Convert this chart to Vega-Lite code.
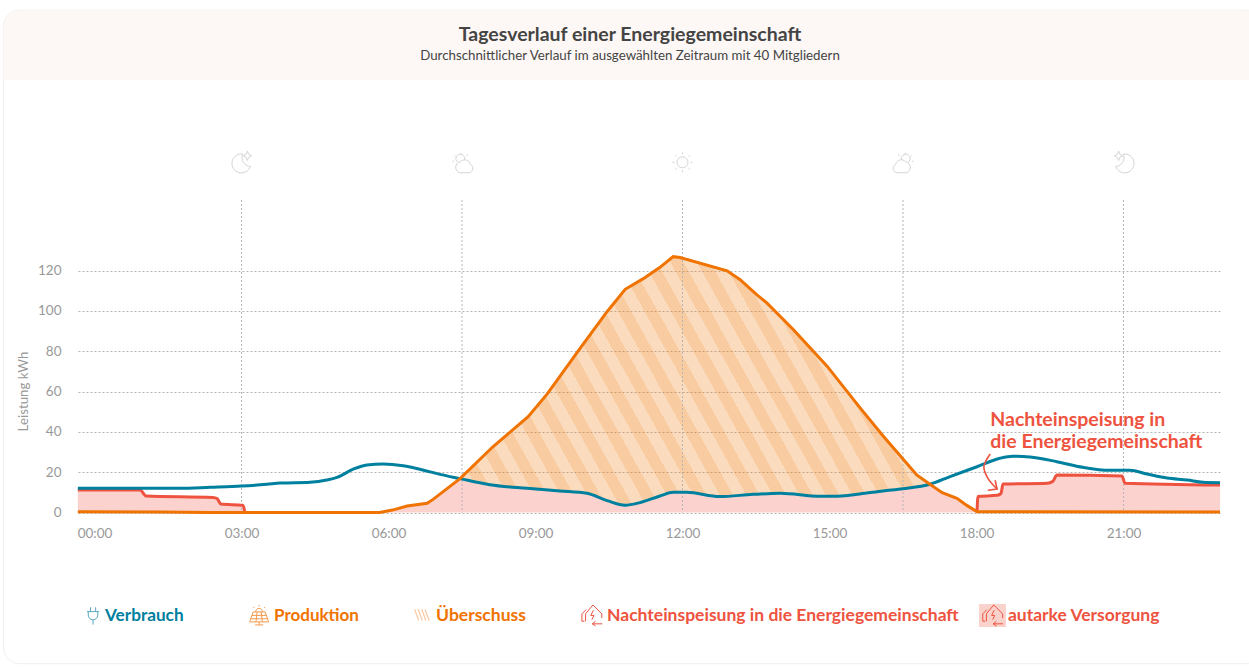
{
"$schema":"https://vega.github.io/schema/vega-lite/v6.json",
"width":1142,"height":312.5,"autosize":{"type":"none"},
"padding":{"left":78,"top":200,"right":29,"bottom":155.5},
"background":"#ffffff",
"title":{"text":"Tagesverlauf einer Energiegemeinschaft","subtitle":"Durchschnittlicher Verlauf im ausgewählten Zeitraum mit 40 Mitgliedern","anchor":"middle","frame":"group","dx":-19,"offset":-53.5,"font":"Lato","fontSize":19.5,"fontWeight":700,"color":"#444444","subtitleFont":"Lato","subtitleFontSize":13.3,"subtitleFontWeight":400,"subtitleColor":"#444444","subtitlePadding":3},
"config":{"view":{"stroke":null}},
"resolve":{"axis":{"x":"independent","y":"independent"}},
"data":{"values":[{}]},
"datasets":{
"verbrauch":[{"h":-0.34,"v":12},{"h":1.74,"v":12},{"h":2.36,"v":12.5},{"h":3.0,"v":13.1},{"h":3.52,"v":14},{"h":3.79,"v":14.6},{"h":4.4,"v":15},{"h":4.74,"v":16.1},{"h":4.95,"v":17.4},{"h":5.28,"v":21.5},{"h":5.56,"v":23.6},{"h":5.89,"v":24.05},{"h":6.3,"v":23.2},{"h":6.7,"v":21.1},{"h":7.05,"v":18.9},{"h":7.46,"v":16.8},{"h":8.07,"v":13.8},{"h":8.83,"v":12},{"h":9.5,"v":10.7},{"h":10.05,"v":9.5},{"h":10.46,"v":5.9},{"h":10.83,"v":3.6},{"h":11.13,"v":4.9},{"h":11.54,"v":8.2},{"h":11.81,"v":10},{"h":12.09,"v":10},{"h":12.76,"v":7.9},{"h":13.44,"v":9},{"h":13.99,"v":9.5},{"h":14.81,"v":8},{"h":15.07,"v":8},{"h":15.62,"v":9.2},{"h":16.09,"v":10.7},{"h":16.5,"v":11.8},{"h":17.05,"v":14},{"h":17.46,"v":17.8},{"h":18.01,"v":22.7},{"h":18.48,"v":26.9},{"h":18.74,"v":27.9},{"h":19.09,"v":27.5},{"h":19.64,"v":25.2},{"h":20.17,"v":22.4},{"h":20.72,"v":20.9},{"h":21.13,"v":20.9},{"h":21.48,"v":19.1},{"h":21.89,"v":17.1},{"h":22.3,"v":16.1},{"h":22.62,"v":15},{"h":22.97,"v":14.8}],
"produktion":[{"h":-0.34,"v":0.4},{"h":1.33,"v":0.2},{"h":2.36,"v":0},{"h":5.82,"v":0},{"h":6.08,"v":1.2},{"h":6.38,"v":3.2},{"h":6.79,"v":4.6},{"h":6.91,"v":6.5},{"h":7.46,"v":16.8},{"h":8.13,"v":32.6},{"h":8.85,"v":47.5},{"h":9.24,"v":58.8},{"h":9.91,"v":81.4},{"h":10.46,"v":99.6},{"h":10.83,"v":110.7},{"h":11.2,"v":116},{"h":11.54,"v":121.6},{"h":11.81,"v":126.9},{"h":11.95,"v":126.5},{"h":12.91,"v":119.9},{"h":13.17,"v":115.6},{"h":13.52,"v":107.9},{"h":13.72,"v":104},{"h":14.26,"v":90.8},{"h":14.95,"v":72.6},{"h":15.62,"v":52},{"h":16.09,"v":38.1},{"h":16.78,"v":18.6},{"h":17.05,"v":14},{"h":17.3,"v":9.8},{"h":17.6,"v":7},{"h":17.81,"v":3.4},{"h":18.01,"v":0.4},{"h":22.97,"v":0.3}],
"nacht":[{"teil":"früh","h":-0.34,"v":11.2},{"teil":"früh","h":0.93,"v":11.2},{"teil":"früh","h":1.05,"v":8.2},{"teil":"früh","h":2.42,"v":7.5},{"teil":"früh","h":2.5,"v":6.9},{"teil":"früh","h":2.58,"v":4.2},{"teil":"früh","h":3.03,"v":3.6},{"teil":"früh","h":3.07,"v":0},{"teil":"abend","h":18.01,"v":0.4},{"teil":"abend","h":18.03,"v":7.9},{"teil":"abend","h":18.42,"v":8.5},{"teil":"abend","h":18.5,"v":9.5},{"teil":"abend","h":18.54,"v":14.1},{"teil":"abend","h":19.44,"v":14.5},{"teil":"abend","h":19.56,"v":15.5},{"teil":"abend","h":19.64,"v":18.6},{"teil":"abend","h":20.97,"v":18.1},{"teil":"abend","h":21.03,"v":14.5},{"teil":"abend","h":22.97,"v":13.6}],
"autark":[{"h":-0.34,"v":11.2},{"h":0.93,"v":11.2},{"h":1.05,"v":8.2},{"h":2.42,"v":7.5},{"h":2.5,"v":6.9},{"h":2.58,"v":4.2},{"h":3.03,"v":3.6},{"h":3.07,"v":0},{"h":5.82,"v":0},{"h":6.08,"v":1.2},{"h":6.38,"v":3.2},{"h":6.79,"v":4.6},{"h":6.91,"v":6.5},{"h":7.46,"v":16.8},{"h":8.07,"v":13.8},{"h":8.83,"v":12},{"h":9.5,"v":10.7},{"h":10.05,"v":9.5},{"h":10.46,"v":5.9},{"h":10.83,"v":3.6},{"h":11.13,"v":4.9},{"h":11.54,"v":8.2},{"h":11.81,"v":10},{"h":12.09,"v":10},{"h":12.76,"v":7.9},{"h":13.44,"v":9},{"h":13.99,"v":9.5},{"h":14.81,"v":8},{"h":15.07,"v":8},{"h":15.62,"v":9.2},{"h":16.09,"v":10.7},{"h":16.5,"v":11.8},{"h":17.05,"v":14},{"h":17.3,"v":9.8},{"h":17.6,"v":7},{"h":17.81,"v":3.4},{"h":18.01,"v":0.4},{"h":18.03,"v":7.9},{"h":18.42,"v":8.5},{"h":18.5,"v":9.5},{"h":18.54,"v":14.1},{"h":19.44,"v":14.5},{"h":19.56,"v":15.5},{"h":19.64,"v":18.6},{"h":20.97,"v":18.1},{"h":21.03,"v":14.5},{"h":22.97,"v":13.6}],
"ueberschuss":[{"h":7.46,"von":16.8,"bis":16.8},{"h":8.07,"von":13.8,"bis":31},{"h":8.13,"von":13.6,"bis":32.6},{"h":8.85,"von":12,"bis":47.5},{"h":9.24,"von":11.2,"bis":58.8},{"h":9.5,"von":10.7,"bis":67.5},{"h":9.91,"von":9.8,"bis":81.4},{"h":10.05,"von":9.5,"bis":86},{"h":10.46,"von":5.9,"bis":99.6},{"h":10.83,"von":3.6,"bis":110.7},{"h":11.13,"von":4.9,"bis":115},{"h":11.2,"von":5.3,"bis":116},{"h":11.54,"von":8.2,"bis":121.6},{"h":11.81,"von":10,"bis":126.9},{"h":11.95,"von":10,"bis":126.5},{"h":12.09,"von":10,"bis":125.5},{"h":12.76,"von":7.9,"bis":121},{"h":12.91,"von":8,"bis":119.9},{"h":13.17,"von":8.4,"bis":115.6},{"h":13.44,"von":9,"bis":109.8},{"h":13.52,"von":9.1,"bis":107.9},{"h":13.72,"von":9.3,"bis":104},{"h":13.99,"von":9.5,"bis":97.4},{"h":14.26,"von":9,"bis":90.8},{"h":14.81,"von":8,"bis":76.5},{"h":14.95,"von":8,"bis":72.6},{"h":15.07,"von":8,"bis":69},{"h":15.62,"von":9.2,"bis":52},{"h":16.09,"von":10.7,"bis":38.1},{"h":16.5,"von":11.8,"bis":26.5},{"h":16.78,"von":13,"bis":18.6},{"h":17.05,"von":14,"bis":14}],
"tageszeit":[{"h":3},{"h":7.5},{"h":12},{"h":16.5},{"h":21}],
"pfeil":[{"n":1,"h":18.28,"v":29},{"n":2,"h":18.15,"v":22.7},{"n":3,"h":18.23,"v":17.1},{"n":4,"h":18.42,"v":11.65}],
"pfeilspitze":[{"n":1,"h":18.23,"v":11},{"n":2,"h":18.42,"v":11.65},{"n":3,"h":18.38,"v":16}]
},
"layer":[
{"mark":{"type":"rect","fill":"transparent","stroke":"#f2f0ee","strokeWidth":1,"cornerRadius":16},"encoding":{"x":{"datum":-1.857,"axis":null,"title":null},"x2":{"datum":23.8},"y":{"datum":249.2,"axis":null,"title":null},"y2":{"datum":-75}}},
{"mark":{"type":"rect","fill":"#fdf8f5","cornerRadiusTopLeft":16},"encoding":{"x":{"datum":-1.85,"axis":null,"title":null},"x2":{"datum":23.8},"y":{"datum":249,"axis":null,"title":null},"y2":{"datum":214.5}}},
{"data":{"name":"autark"},"mark":{"type":"area","color":"#ee5340","opacity":0.26,"interpolate":"linear"},"encoding":{
"x":{"field":"h","type":"quantitative","title":null,"scale":{"domain":[-0.3367,22.969],"nice":false,"zero":false},"axis":{"values":[0,3,6,9,12,15,18,21],"labelExpr":"(datum.value<10?'0':'')+datum.value+':00'","domain":false,"ticks":false,"grid":false,"labelColor":"#999999","labelFont":"Lato","labelFontSize":13.5,"labelPadding":14,"labelFlush":false}},
"y":{"field":"v","type":"quantitative","title":"Leistung kWh","scale":{"domain":[0,155],"nice":false,"zero":false},"axis":{"values":[0,20,40,60,80,100,120],"domain":false,"ticks":false,"grid":true,"gridColor":"#b5b5b5","gridDash":[2,2],"gridWidth":1,"labelColor":"#999999","labelFont":"Lato","labelFontSize":13.5,"labelPadding":17,"titleColor":"#999999","titleFont":"Lato","titleFontSize":13.3,"titleFontWeight":400,"titleX":-48,"titleY":191}}}},
{"data":{"name":"ueberschuss"},"mark":{"type":"area","interpolate":"linear","fill":{"gradient":"linear","x1":0,"y1":1,"x2":1.3,"y2":0.619,"stops":[
{"offset":0,"color":"rgba(240,115,0,0.37)"},{"offset":0.02,"color":"rgba(240,115,0,0.37)"},{"offset":0.02,"color":"rgba(240,115,0,0.255)"},{"offset":0.04,"color":"rgba(240,115,0,0.255)"},
{"offset":0.04,"color":"rgba(240,115,0,0.37)"},{"offset":0.06,"color":"rgba(240,115,0,0.37)"},{"offset":0.06,"color":"rgba(240,115,0,0.255)"},{"offset":0.08,"color":"rgba(240,115,0,0.255)"},
{"offset":0.08,"color":"rgba(240,115,0,0.37)"},{"offset":0.10,"color":"rgba(240,115,0,0.37)"},{"offset":0.10,"color":"rgba(240,115,0,0.255)"},{"offset":0.12,"color":"rgba(240,115,0,0.255)"},
{"offset":0.12,"color":"rgba(240,115,0,0.37)"},{"offset":0.14,"color":"rgba(240,115,0,0.37)"},{"offset":0.14,"color":"rgba(240,115,0,0.255)"},{"offset":0.16,"color":"rgba(240,115,0,0.255)"},
{"offset":0.16,"color":"rgba(240,115,0,0.37)"},{"offset":0.18,"color":"rgba(240,115,0,0.37)"},{"offset":0.18,"color":"rgba(240,115,0,0.255)"},{"offset":0.20,"color":"rgba(240,115,0,0.255)"},
{"offset":0.20,"color":"rgba(240,115,0,0.37)"},{"offset":0.22,"color":"rgba(240,115,0,0.37)"},{"offset":0.22,"color":"rgba(240,115,0,0.255)"},{"offset":0.24,"color":"rgba(240,115,0,0.255)"},
{"offset":0.24,"color":"rgba(240,115,0,0.37)"},{"offset":0.26,"color":"rgba(240,115,0,0.37)"},{"offset":0.26,"color":"rgba(240,115,0,0.255)"},{"offset":0.28,"color":"rgba(240,115,0,0.255)"},
{"offset":0.28,"color":"rgba(240,115,0,0.37)"},{"offset":0.30,"color":"rgba(240,115,0,0.37)"},{"offset":0.30,"color":"rgba(240,115,0,0.255)"},{"offset":0.32,"color":"rgba(240,115,0,0.255)"},
{"offset":0.32,"color":"rgba(240,115,0,0.37)"},{"offset":0.34,"color":"rgba(240,115,0,0.37)"},{"offset":0.34,"color":"rgba(240,115,0,0.255)"},{"offset":0.36,"color":"rgba(240,115,0,0.255)"},
{"offset":0.36,"color":"rgba(240,115,0,0.37)"},{"offset":0.38,"color":"rgba(240,115,0,0.37)"},{"offset":0.38,"color":"rgba(240,115,0,0.255)"},{"offset":0.40,"color":"rgba(240,115,0,0.255)"},
{"offset":0.40,"color":"rgba(240,115,0,0.37)"},{"offset":0.42,"color":"rgba(240,115,0,0.37)"},{"offset":0.42,"color":"rgba(240,115,0,0.255)"},{"offset":0.44,"color":"rgba(240,115,0,0.255)"},
{"offset":0.44,"color":"rgba(240,115,0,0.37)"},{"offset":0.46,"color":"rgba(240,115,0,0.37)"},{"offset":0.46,"color":"rgba(240,115,0,0.255)"},{"offset":0.48,"color":"rgba(240,115,0,0.255)"},
{"offset":0.48,"color":"rgba(240,115,0,0.37)"},{"offset":0.50,"color":"rgba(240,115,0,0.37)"},{"offset":0.50,"color":"rgba(240,115,0,0.255)"},{"offset":0.52,"color":"rgba(240,115,0,0.255)"},
{"offset":0.52,"color":"rgba(240,115,0,0.37)"},{"offset":0.54,"color":"rgba(240,115,0,0.37)"},{"offset":0.54,"color":"rgba(240,115,0,0.255)"},{"offset":0.56,"color":"rgba(240,115,0,0.255)"},
{"offset":0.56,"color":"rgba(240,115,0,0.37)"},{"offset":0.58,"color":"rgba(240,115,0,0.37)"},{"offset":0.58,"color":"rgba(240,115,0,0.255)"},{"offset":0.60,"color":"rgba(240,115,0,0.255)"},
{"offset":0.60,"color":"rgba(240,115,0,0.37)"},{"offset":0.62,"color":"rgba(240,115,0,0.37)"},{"offset":0.62,"color":"rgba(240,115,0,0.255)"},{"offset":0.64,"color":"rgba(240,115,0,0.255)"},
{"offset":0.64,"color":"rgba(240,115,0,0.37)"},{"offset":0.66,"color":"rgba(240,115,0,0.37)"},{"offset":0.66,"color":"rgba(240,115,0,0.255)"},{"offset":0.68,"color":"rgba(240,115,0,0.255)"},
{"offset":0.68,"color":"rgba(240,115,0,0.37)"},{"offset":0.70,"color":"rgba(240,115,0,0.37)"},{"offset":0.70,"color":"rgba(240,115,0,0.255)"},{"offset":0.72,"color":"rgba(240,115,0,0.255)"},
{"offset":0.72,"color":"rgba(240,115,0,0.37)"},{"offset":0.74,"color":"rgba(240,115,0,0.37)"},{"offset":0.74,"color":"rgba(240,115,0,0.255)"},{"offset":0.76,"color":"rgba(240,115,0,0.255)"},
{"offset":0.76,"color":"rgba(240,115,0,0.37)"},{"offset":0.78,"color":"rgba(240,115,0,0.37)"},{"offset":0.78,"color":"rgba(240,115,0,0.255)"},{"offset":0.80,"color":"rgba(240,115,0,0.255)"},
{"offset":0.80,"color":"rgba(240,115,0,0.37)"},{"offset":0.82,"color":"rgba(240,115,0,0.37)"},{"offset":0.82,"color":"rgba(240,115,0,0.255)"},{"offset":0.84,"color":"rgba(240,115,0,0.255)"},
{"offset":0.84,"color":"rgba(240,115,0,0.37)"},{"offset":0.86,"color":"rgba(240,115,0,0.37)"},{"offset":0.86,"color":"rgba(240,115,0,0.255)"},{"offset":0.88,"color":"rgba(240,115,0,0.255)"},
{"offset":0.88,"color":"rgba(240,115,0,0.37)"},{"offset":0.90,"color":"rgba(240,115,0,0.37)"},{"offset":0.90,"color":"rgba(240,115,0,0.255)"},{"offset":0.92,"color":"rgba(240,115,0,0.255)"},
{"offset":0.92,"color":"rgba(240,115,0,0.37)"},{"offset":1,"color":"rgba(240,115,0,0.37)"}]},"stroke":null},"encoding":{"x":{"field":"h","type":"quantitative","axis":null},"y":{"field":"von","type":"quantitative","axis":null},"y2":{"field":"bis"}}},
{"data":{"name":"tageszeit"},"mark":{"type":"rule","color":"#b5b5b5","strokeDash":[2,2],"strokeWidth":1},"encoding":{"x":{"field":"h","type":"quantitative","axis":null}}},
{"data":{"name":"nacht"},"mark":{"type":"line","color":"#ee5340","strokeWidth":3,"interpolate":"monotone"},"encoding":{"x":{"field":"h","type":"quantitative","axis":null},"y":{"field":"v","type":"quantitative","axis":null},"detail":{"field":"teil"}}},
{"data":{"name":"verbrauch"},"mark":{"type":"line","color":"#00809f","strokeWidth":3,"interpolate":"monotone"},"encoding":{"x":{"field":"h","type":"quantitative","axis":null},"y":{"field":"v","type":"quantitative","axis":null}}},
{"data":{"name":"produktion"},"mark":{"type":"line","color":"#f07300","strokeWidth":3,"interpolate":"linear"},"encoding":{"x":{"field":"h","type":"quantitative","axis":null},"y":{"field":"v","type":"quantitative","axis":null}}},
{"data":{"name":"pfeil"},"mark":{"type":"line","color":"#ee5340","strokeWidth":1.6,"interpolate":"catmull-rom"},"encoding":{"x":{"field":"h","type":"quantitative","axis":null},"y":{"field":"v","type":"quantitative","axis":null},"order":{"field":"n"}}},
{"data":{"name":"pfeilspitze"},"mark":{"type":"line","color":"#ee5340","strokeWidth":1.6},"encoding":{"x":{"field":"h","type":"quantitative","axis":null},"y":{"field":"v","type":"quantitative","axis":null},"order":{"field":"n"}}},
{"mark":{"type":"text","text":"Nachteinspeisung in","align":"left","baseline":"middle","font":"Lato","fontSize":19.5,"fontWeight":700,"color":"#ee5340"},"encoding":{"x":{"datum":18.28,"axis":null,"title":null},"y":{"datum":46.1,"axis":null,"title":null}}},
{"mark":{"type":"text","text":"die Energiegemeinschaft","align":"left","baseline":"middle","font":"Lato","fontSize":19.5,"fontWeight":700,"color":"#ee5340"},"encoding":{"x":{"datum":18.28,"axis":null,"title":null},"y":{"datum":35.2,"axis":null,"title":null}}},
{"mark":{"type":"point","filled":false,"size":560,"stroke":"#d4d4d4","strokeWidth":1,"opacity":1,"shape":"M0.1 -0.7 A0.8 0.8 0 1 0 0.75 0.35 A0.75 0.75 0 0 1 0.1 -0.7 Z M0.5 -0.95 L0.6 -0.68 L0.85 -0.55 L0.6 -0.42 L0.5 -0.15 L0.4 -0.42 L0.15 -0.55 L0.4 -0.68 Z"},"encoding":{"x":{"datum":3.0,"axis":null,"title":null},"y":{"datum":173.7,"axis":null,"title":null}}},
{"mark":{"type":"point","filled":false,"size":440,"stroke":"#d4d4d4","strokeWidth":1,"opacity":1,"shape":"M-0.35 0.9 H0.55 A0.42 0.42 0 0 0 0.7 0.1 A0.55 0.55 0 0 0 -0.25 -0.15 A0.55 0.55 0 0 0 -0.35 0.9 Z M-0.5 -0.1 A0.42 0.42 0 1 1 0.15 -0.35 M-0.2 -1 V-0.85 M-0.85 -0.75 L-0.75 -0.65 M0.45 -0.85 L0.35 -0.7 M-1 -0.2 H-0.85"},"encoding":{"x":{"datum":7.52,"axis":null,"title":null},"y":{"datum":173.2,"axis":null,"title":null}}},
{"mark":{"type":"point","filled":false,"size":400,"stroke":"#d4d4d4","strokeWidth":1,"opacity":1,"shape":"M0.55 0 A0.55 0.55 0 1 1 -0.55 0 A0.55 0.55 0 1 1 0.55 0 Z M0 -0.8 V-1 M0 0.8 V1 M-0.8 0 H-1 M0.8 0 H1 M0.58 -0.58 L0.72 -0.72 M-0.58 -0.58 L-0.72 -0.72 M0.58 0.58 L0.72 0.72 M-0.58 0.58 L-0.72 0.72"},"encoding":{"x":{"datum":12,"axis":null,"title":null},"y":{"datum":173.7,"axis":null,"title":null}}},
{"mark":{"type":"point","filled":false,"size":440,"stroke":"#d4d4d4","strokeWidth":1,"opacity":1,"shape":"M0.35 0.9 H-0.55 A0.42 0.42 0 0 1 -0.7 0.1 A0.55 0.55 0 0 1 0.25 -0.15 A0.55 0.55 0 0 1 0.35 0.9 Z M0.5 -0.1 A0.42 0.42 0 1 0 -0.15 -0.35 M0.2 -1 V-0.85 M0.85 -0.75 L0.75 -0.65 M-0.45 -0.85 L-0.35 -0.7 M1 -0.2 H0.85"},"encoding":{"x":{"datum":16.5,"axis":null,"title":null},"y":{"datum":173.2,"axis":null,"title":null}}},
{"mark":{"type":"point","filled":false,"size":560,"stroke":"#d4d4d4","strokeWidth":1,"opacity":1,"shape":"M-0.1 -0.7 A0.8 0.8 0 1 1 -0.75 0.35 A0.75 0.75 0 0 0 -0.1 -0.7 Z M-0.5 -0.95 L-0.6 -0.68 L-0.85 -0.55 L-0.6 -0.42 L-0.5 -0.15 L-0.4 -0.42 L-0.15 -0.55 L-0.4 -0.68 Z"},"encoding":{"x":{"datum":21.02,"axis":null,"title":null},"y":{"datum":173.7,"axis":null,"title":null}}},
{"mark":{"type":"point","filled":false,"size":300,"stroke":"#5aa9c0","strokeWidth":1,"opacity":1,"shape":"M-0.3 -1 V-0.5 M0.3 -1 V-0.5 M-0.7 -0.5 H0.7 M-0.55 -0.5 V-0.1 A0.55 0.55 0 0 0 0.55 -0.1 V-0.5 M0 0.45 V1"},"encoding":{"x":{"datum":-0.03,"axis":null,"title":null},"y":{"datum":-51.3,"axis":null,"title":null}}},
{"mark":{"type":"text","text":"Verbrauch","align":"left","baseline":"middle","font":"Lato","fontSize":17.2,"fontWeight":700,"color":"#00809f"},"encoding":{"x":{"datum":0.214,"axis":null,"title":null},"y":{"datum":-51.3,"axis":null,"title":null}}},
{"mark":{"type":"point","filled":false,"size":400,"stroke":"#f59a4d","strokeWidth":1,"opacity":1,"shape":"M-0.6 -0.3 H0.6 L0.95 0.7 H-0.95 Z M-0.72 0.05 H0.72 M-0.83 0.38 H0.83 M-0.2 -0.3 L-0.32 0.7 M0.2 -0.3 L0.32 0.7 M0 0.7 V1 M-0.4 1 H0.4 M-0.35 -0.3 A0.35 0.35 0 0 1 0.35 -0.3 M0 -1 V-0.85 M-0.6 -0.8 L-0.5 -0.7 M0.6 -0.8 L0.5 -0.7"},"encoding":{"x":{"datum":3.36,"axis":null,"title":null},"y":{"datum":-50.8,"axis":null,"title":null}}},
{"mark":{"type":"text","text":"Produktion","align":"left","baseline":"middle","font":"Lato","fontSize":17,"fontWeight":700,"color":"#f07300"},"encoding":{"x":{"datum":3.663,"axis":null,"title":null},"y":{"datum":-51.3,"axis":null,"title":null}}},
{"mark":{"type":"point","filled":false,"size":256,"stroke":"#f9c9a0","strokeWidth":1.2,"opacity":1,"shape":"M-0.9 -0.7 L-0.4 0.7 M-0.45 -0.7 L0.05 0.7 M0 -0.7 L0.5 0.7 M0.4 -0.7 L0.9 0.7"},"encoding":{"x":{"datum":6.68,"axis":null,"title":null},"y":{"datum":-50.8,"axis":null,"title":null}}},
{"mark":{"type":"text","text":"Überschuss","align":"left","baseline":"middle","font":"Lato","fontSize":17.5,"fontWeight":700,"color":"#f07300"},"encoding":{"x":{"datum":6.97,"axis":null,"title":null},"y":{"datum":-51.3,"axis":null,"title":null}}},
{"mark":{"type":"point","filled":false,"size":440,"stroke":"#ee5340","strokeWidth":1,"opacity":1,"shape":"M-0.7 0.6 H-0.95 V-0.1 L-0.55 -0.5 M-0.6 0.6 V-0.1 L0.1 -0.95 L0.95 -0.1 V0.3 M0.15 -0.45 L-0.1 0.05 H0.2 L0 0.45 M1 0.85 H0.05 M0.35 0.6 L0.05 0.85 L0.35 1.05"},"encoding":{"x":{"datum":10.15,"axis":null,"title":null},"y":{"datum":-50.8,"axis":null,"title":null}}},
{"mark":{"type":"text","text":"Nachteinspeisung in die Energiegemeinschaft","align":"left","baseline":"middle","font":"Lato","fontSize":17.5,"fontWeight":700,"color":"#ee5340"},"encoding":{"x":{"datum":10.46,"axis":null,"title":null},"y":{"datum":-51.3,"axis":null,"title":null}}},
{"mark":{"type":"rect","fill":"#f9d2cb"},"encoding":{"x":{"datum":18.05,"axis":null,"title":null},"x2":{"datum":18.6},"y":{"datum":-45.4,"axis":null,"title":null},"y2":{"datum":-56.8}}},
{"mark":{"type":"point","filled":false,"size":440,"stroke":"#ee5340","strokeWidth":1,"opacity":1,"shape":"M-0.7 0.6 H-0.95 V-0.1 L-0.55 -0.5 M-0.6 0.6 V-0.1 L0.1 -0.95 L0.95 -0.1 V0.3 M0.15 -0.45 L-0.1 0.05 H0.2 L0 0.45 M1 0.85 H0.05 M0.35 0.6 L0.05 0.85 L0.35 1.05"},"encoding":{"x":{"datum":18.33,"axis":null,"title":null},"y":{"datum":-50.8,"axis":null,"title":null}}},
{"mark":{"type":"text","text":"autarke Versorgung","align":"left","baseline":"middle","font":"Lato","fontSize":17.5,"fontWeight":700,"color":"#ee5340"},"encoding":{"x":{"datum":18.64,"axis":null,"title":null},"y":{"datum":-51.3,"axis":null,"title":null}}}
]
}
